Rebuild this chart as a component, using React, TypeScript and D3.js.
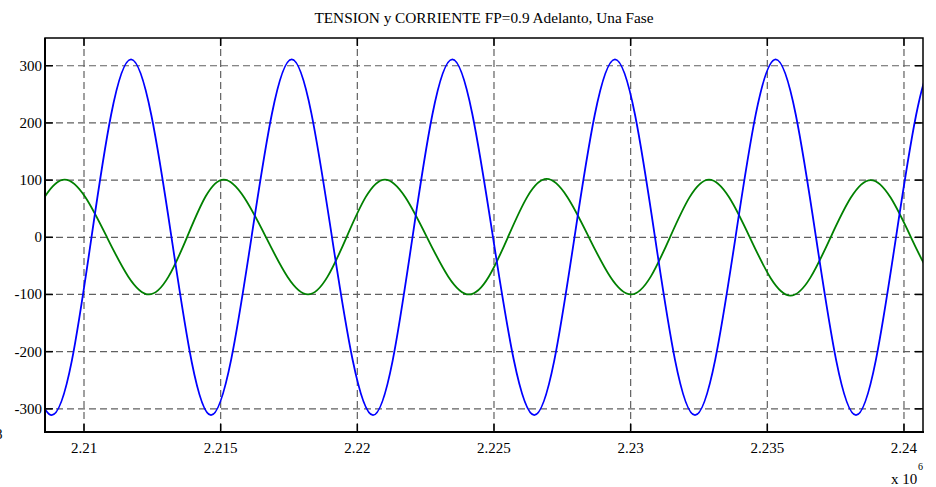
import { useEffect, useRef } from "react";
import * as d3 from "d3";

// time axis values are in units of 10^6
const xTicks = [2.21, 2.215, 2.22, 2.225, 2.23, 2.235, 2.24];
const yTicks = [-300, -200, -100, 0, 100, 200, 300];

// voltage (blue): zero crossings, peaks and troughs
// (the outermost points sit just outside the visible window and are clipped)
const vTime = [
  2.207148, 2.208818, 2.210274, 2.21172, 2.213201, 2.214646, 2.216128, 2.217599,
  2.219073, 2.220573, 2.222018, 2.223475, 2.224964, 2.226475, 2.227945, 2.229427,
  2.230891, 2.232354, 2.233836, 2.235306, 2.236781, 2.238244, 2.239708, 2.241182,
  2.242656,
];
const vValue = [
  0, -311, 0, 311, 0, -311, 0, 311,
  0, -311, 0, 311, 0, -311, 0, 311,
  0, -311, 0, 311, 0, -311, 0, 311,
  0,
];

// current (green)
const iTime = [
  2.207814, 2.209294, 2.210841, 2.212378, 2.213768, 2.215111, 2.216659, 2.218195,
  2.219604, 2.221009, 2.222549, 2.224086, 2.225509, 2.226928, 2.228472, 2.230012,
  2.231439, 2.232866, 2.234359, 2.235848, 2.237318, 2.238786, 2.240256, 2.241738,
  2.24322,
];
const iValue = [
  0, 101, 0, -100, 0, 101, 0, -100,
  0, 101, 0, -100, 0, 102, 0, -100,
  0, 101, 0, -102, 0, 100, 0, -100,
  0,
];

const W = 936, H = 487;
const L = 45, R = 923, T = 38, B = 432;
const FONT = "'Liberation Serif', 'Times New Roman', serif";

export default function App() {
  const ref = useRef<SVGSVGElement>(null);

  useEffect(() => {
    if (!ref.current) return;
    const svg = d3.select(ref.current);
    svg.selectAll("*").remove();

    const x = d3.scaleLinear().domain([2.208573, 2.240696]).range([L, R]);
    const y = d3.scaleLinear().domain([-340.5, 348.5]).range([B, T]);

    svg.append("rect").attr("width", W).attr("height", H).attr("fill", "#fff");

    const clip = svg.append("defs").append("clipPath").attr("id", "plot-clip");
    clip.append("rect").attr("x", L).attr("y", T).attr("width", R - L).attr("height", B - T);

    // grid
    const grid = svg.append("g").attr("stroke", "#606060").attr("stroke-width", 1.2)
      .attr("stroke-dasharray", "7,4");
    xTicks.forEach(t => {
      grid.append("line").attr("x1", x(t)).attr("x2", x(t)).attr("y1", T).attr("y2", B);
    });
    yTicks.forEach(v => {
      grid.append("line").attr("x1", L).attr("x2", R).attr("y1", y(v)).attr("y2", y(v));
    });

    // traces
    const line = (ts: number[], vs: number[]) =>
      d3.line<number>().x((_, i) => x(ts[i])).y(d => y(d)).curve(d3.curveNatural)(vs);
    const plot = svg.append("g").attr("clip-path", "url(#plot-clip)").attr("fill", "none")
      .attr("stroke-width", 1.8).attr("stroke-linejoin", "round");
    plot.append("path").attr("d", line(iTime, iValue)).attr("stroke", "#008000");
    plot.append("path").attr("d", line(vTime, vValue)).attr("stroke", "#0000ff");

    // box + inner ticks
    const ax = svg.append("g").attr("stroke", "#000").attr("fill", "none");
    ax.append("rect").attr("x", L).attr("y", T).attr("width", R - L).attr("height", B - T)
      .attr("stroke-width", 1.5);
    ax.append("line").attr("x1", L).attr("x2", L).attr("y1", T).attr("y2", B + 1).attr("stroke-width", 2);
    ax.append("line").attr("x1", L - 1).attr("x2", R + 1).attr("y1", B).attr("y2", B).attr("stroke-width", 2);
    const tl = 8;
    xTicks.forEach(t => {
      ax.append("line").attr("x1", x(t)).attr("x2", x(t)).attr("y1", B).attr("y2", B - tl).attr("stroke-width", 1.5);
      ax.append("line").attr("x1", x(t)).attr("x2", x(t)).attr("y1", T).attr("y2", T + tl).attr("stroke-width", 1.5);
    });
    yTicks.forEach(v => {
      ax.append("line").attr("x1", L).attr("x2", L + tl).attr("y1", y(v)).attr("y2", y(v)).attr("stroke-width", 1.5);
      ax.append("line").attr("x1", R).attr("x2", R - tl).attr("y1", y(v)).attr("y2", y(v)).attr("stroke-width", 1.5);
    });

    // labels
    const txt = svg.append("g").attr("font-family", FONT).attr("font-size", 15).attr("fill", "#000");
    xTicks.forEach(t => {
      txt.append("text").attr("x", x(t)).attr("y", 453).attr("text-anchor", "middle")
        .text(String(t));
    });
    yTicks.forEach(v => {
      txt.append("text").attr("x", 42).attr("y", y(v) + 5).attr("text-anchor", "end")
        .text(String(v));
    });
    txt.append("text").attr("x", 484).attr("y", 23).attr("text-anchor", "middle")
      .attr("font-size", 15.3).text("TENSION y CORRIENTE FP=0.9 Adelanto, Una Fase");
    txt.append("text").attr("x", 891).attr("y", 484).text("x 10");
    txt.append("text").attr("x", 918).attr("y", 470).attr("font-size", 10).text("6");
    txt.append("text").attr("x", -5).attr("y", 439).text("8");
  }, []);

  return (
    <svg ref={ref} width={W} height={H}
      style={{ position: "absolute", left: 0, top: 0, display: "block" }} />
  );
}
